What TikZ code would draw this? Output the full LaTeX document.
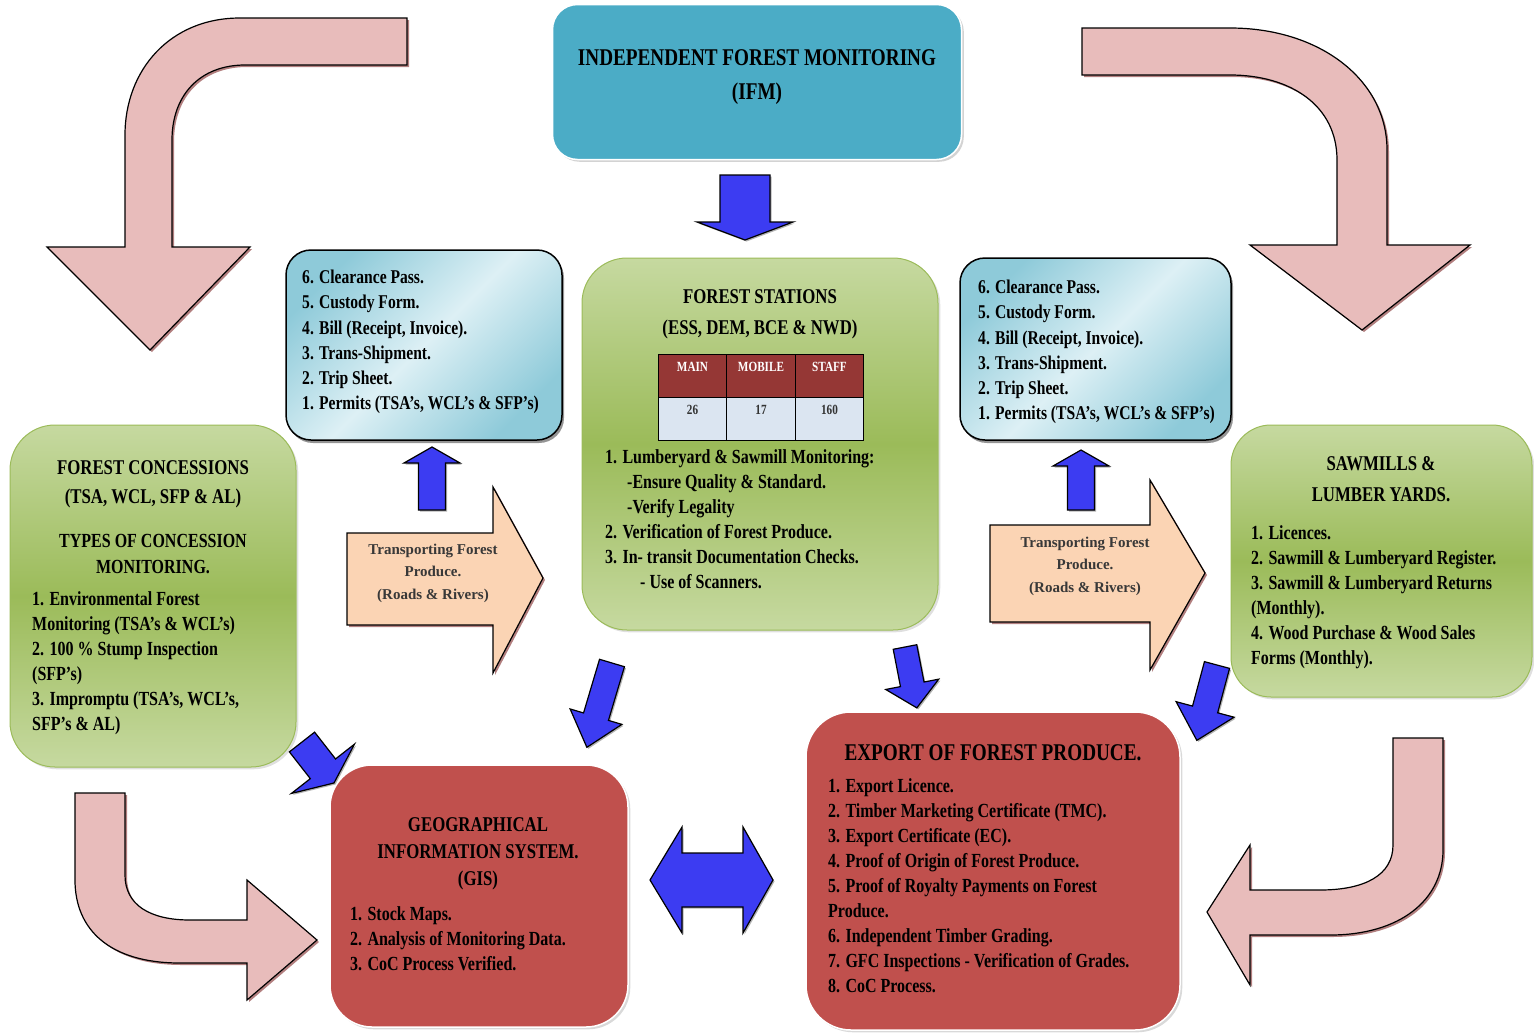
\documentclass[tikz,border=0pt]{standalone}
\usepackage{fontspec}
\setmainfont{Liberation Serif}[FakeStretch=0.8]
\newfontfamily\widefont{Liberation Serif}
\usetikzlibrary{shadows}

\definecolor{ifmteal}{HTML}{4BACC6}
\definecolor{greenlight}{HTML}{C6D9A0}
\definecolor{greendark}{HTML}{9BBB59}
\definecolor{doclight}{HTML}{DDF0F5}
\definecolor{docdark}{HTML}{8ECAD9}
\definecolor{gisred}{HTML}{C0504D}
\definecolor{tabred}{HTML}{953735}
\definecolor{tabblue}{HTML}{DBE5F1}
\definecolor{arrowblue}{HTML}{3C3CF2}
\definecolor{pinkfill}{HTML}{E8BCBB}
\definecolor{peachfill}{HTML}{FBD4B4}

\begin{document}
\begin{tikzpicture}[x=1pt, y=-1pt,
    every node/.style={inner sep=0pt},
    ifmbox/.style={fill=ifmteal, draw=white, line width=1.5pt, rounded corners=25pt,
        drop shadow={opacity=.35}},
    greenbox/.style={draw=greendark, line width=1pt, top color=greenlight,
        bottom color=greenlight, middle color=greendark, rounded corners=45pt,
        drop shadow={opacity=.25}},
    docbox/.style={draw=black, line width=1.5pt, top color=docdark, bottom color=docdark,
        middle color=doclight, shading angle=45, rounded corners=25pt,
        drop shadow={shadow xshift=2pt, shadow yshift=-3pt, fill=black!70, opacity=.6}},
    gisbox/.style={fill=gisred, draw=white, line width=1.5pt, rounded corners=42pt,
        drop shadow={opacity=.3}},
    pinkarrow/.style={fill=pinkfill, draw=black, line width=1.2pt, line join=miter,
        drop shadow={shadow xshift=2pt, shadow yshift=-2pt, fill=red!40!black, opacity=.5}},
    peacharrow/.style={fill=peachfill, draw=black, line width=1.2pt,
        drop shadow={shadow xshift=2pt, shadow yshift=-2pt, fill=red!40!black, opacity=.5}},
    bluearrow/.style={fill=arrowblue, draw=black, line width=1.2pt, line join=miter,
        drop shadow={shadow xshift=1.5pt, shadow yshift=-1.5pt, fill=black!60, opacity=.5}},
    titletext/.style={font=\fontsize{24}{34}\selectfont\bfseries, align=center},
    headtext/.style={font=\fontsize{21}{31}\selectfont\bfseries, align=center},
    listtext/.style={font=\fontsize{20}{25}\selectfont\bfseries, align=left, anchor=north west},
    doctext/.style={font=\fontsize{19.5}{25.2}\selectfont\bfseries, align=left, anchor=north west},
    transtext/.style={font=\widefont\fontsize{15}{22.5}\selectfont\bfseries, text=black!78, align=center},
    tabhead/.style={draw=black, line width=1pt, fill=tabred, text=white, minimum width=68.5pt,
        minimum height=43pt, text height=8pt, text depth=16pt, font=\fontsize{14}{14}\selectfont\bfseries},
    tabcell/.style={tabhead, fill=tabblue, text=black!80},
    pics/blockarrow/.style n args={4}{code={
        \draw[bluearrow] (0,{-#2}) -- ({#1-#4},{-#2}) -- ({#1-#4},{-#3}) -- (#1,0)
            -- ({#1-#4},#3) -- ({#1-#4},#2) -- (0,#2) -- cycle;}}
]
\useasboundingbox (0,0) rectangle (1534,1034);

% curved arrows round the outside
\draw[pinkarrow] (407,18) -- (240,18) .. controls (170,18) and (125,70) .. (125,135)
    -- (125,247) -- (47,247) -- (150,350) -- (250,247) -- (172,247) -- (172,140)
    .. controls (172,95) and (200,65) .. (245,65) -- (407,65) -- cycle;
\draw[pinkarrow] (1082,28) -- (1230,28) .. controls (1320,28) and (1387,80) .. (1387,150)
    -- (1387,245) -- (1470,245) -- (1362,330) -- (1250,245) -- (1337,245) -- (1337,160)
    .. controls (1337,105) and (1290,75) .. (1230,75) -- (1082,75) -- cycle;
\draw[pinkarrow] (75,793) -- (125,793) -- (125,875) .. controls (125,905) and (150,920) .. (190,920)
    -- (247,920) -- (247,880) -- (317,940) -- (247,1000) -- (247,963) -- (180,963)
    .. controls (110,963) and (75,930) .. (75,880) -- cycle;
\draw[pinkarrow] (1443,738) -- (1393,738) -- (1393,845) .. controls (1393,875) and (1365,890) .. (1320,890)
    -- (1250,890) -- (1250,845) -- (1207,912) -- (1250,985) -- (1250,935) -- (1330,935)
    .. controls (1400,935) and (1443,900) .. (1443,850) -- cycle;

% IFM
\node[ifmbox, minimum width=409pt, minimum height=155pt] (ifm) at (757,82) {};
\node[titletext] (ifmtitle) at (757,77) {INDEPENDENT FOREST MONITORING\\(IFM)};

% forest stations
\node[greenbox, minimum width=356pt, minimum height=372pt] (stations) at (760,444) {};
\node[headtext] (stationstitle) at (760,314) {FOREST STATIONS\\(ESS, DEM, BCE \& NWD)};
\foreach \x/\h/\v [count=\i] in {692.5/MAIN/26, 761/MOBILE/17, 829.5/STAFF/160} {
    \node[tabhead] (head\i) at (\x,375.5) {\h};
    \node[tabcell] (cell\i) at (\x,418.5) {\v};
}
\node[listtext] (stationslist) at (605,449) {1. Lumberyard \& Sawmill Monitoring:\\
    \hspace*{22pt}-Ensure Quality \& Standard.\\
    \hspace*{22pt}-Verify Legality\\
    2. Verification of Forest Produce.\\
    3. In- transit Documentation Checks.\\
    \hspace*{35pt}- Use of Scanners.};

% documents
\node[docbox, minimum width=276pt, minimum height=190pt] (docleft) at (424,345) {};
\node[doctext] (docleftlist) at (302,270) {6. Clearance Pass.\\5. Custody Form.\\
    4. Bill (Receipt, Invoice).\\3. Trans-Shipment.\\2. Trip Sheet.\\
    1. Permits (TSA's, WCL's \& SFP's)};
\node[docbox, minimum width=271pt, minimum height=182pt] (docright) at (1095.5,349) {};
\node[doctext] (docrightlist) at (978,280) {6. Clearance Pass.\\5. Custody Form.\\
    4. Bill (Receipt, Invoice).\\3. Trans-Shipment.\\2. Trip Sheet.\\
    1. Permits (TSA's, WCL's \& SFP's)};

% concessions
\node[greenbox, minimum width=286pt, minimum height=342pt] (concessions) at (153,596) {};
\node[headtext, font=\fontsize{21}{29}\selectfont\bfseries] (concessionstitle) at (153,484)
    {FOREST CONCESSIONS\\(TSA, WCL, SFP \& AL)};
\node[headtext, font=\fontsize{20}{26}\selectfont\bfseries] (concessionstypes) at (153,554)
    {TYPES OF CONCESSION\\MONITORING.};
\node[listtext] (concessionslist) at (32,591) {1. Environmental Forest\\
    Monitoring (TSA's \& WCL's)\\2. 100 \% Stump Inspection\\(SFP's)\\
    3. Impromptu (TSA's, WCL's,\\SFP's \& AL)};

% sawmills
\node[greenbox, minimum width=301pt, minimum height=272pt, rounded corners=40pt] (sawmills) at (1381.5,561) {};
\node[headtext] (sawmillstitle) at (1381,479) {SAWMILLS \&\\LUMBER YARDS.};
\node[listtext] (sawmillslist) at (1251,525) {1. Licences.\\2. Sawmill \& Lumberyard Register.\\
    3. Sawmill \& Lumberyard Returns\\(Monthly).\\4. Wood Purchase \& Wood Sales\\
    Forms (Monthly).};

% GIS
\node[gisbox, minimum width=298pt, minimum height=262pt] (gis) at (479,896) {};
\node[headtext, font=\fontsize{21}{27}\selectfont\bfseries] (gistitle) at (478,854)
    {GEOGRAPHICAL\\INFORMATION SYSTEM.\\(GIS)};
\node[listtext] (gislist) at (350,906) {1. Stock Maps.\\2. Analysis of Monitoring Data.\\
    3. CoC Process Verified.};

% export
\node[gisbox, minimum width=374pt, minimum height=318pt, rounded corners=45pt] (export) at (993,871) {};
\node[titletext] (exporttitle) at (993,753) {EXPORT OF FOREST PRODUCE.};
\node[listtext] (exportlist) at (828,778) {1. Export Licence.\\
    2. Timber Marketing Certificate (TMC).\\3. Export Certificate (EC).\\
    4. Proof of Origin of Forest Produce.\\5. Proof of Royalty Payments on Forest\\
    Produce.\\6. Independent Timber Grading.\\7. GFC Inspections - Verification of Grades.\\
    8. CoC Process.};

% transport arrows
\draw[peacharrow] (347,533) -- (493,533) -- (493,487) -- (543,578) -- (493,673) -- (493,625) -- (347,625) -- cycle;
\node[transtext] (transleft) at (433,573) {Transporting Forest\\Produce.\\(Roads \& Rivers)};
\draw[peacharrow] (990,525) -- (1150,525) -- (1150,480) -- (1205,573) -- (1150,670) -- (1150,622) -- (990,622) -- cycle;
\node[transtext] (transright) at (1085,566) {Transporting Forest\\Produce.\\(Roads \& Rivers)};

% blue arrows
\pic[rotate=-90] (ifmdown) at (745,175) {blockarrow={65}{25}{48}{18}};
\pic[rotate=90] (leftup) at (432,510) {blockarrow={63}{13.5}{28}{16}};
\pic[rotate=90] (rightup) at (1081,510) {blockarrow={60}{13.5}{28}{16}};
\pic[rotate=-106.6] (togis) at (612,663) {blockarrow={88}{13}{27}{32}};
\pic[rotate=-79] (toexport) at (905,647) {blockarrow={62}{12}{27}{24}};
\pic[rotate=-105] (sawtoexport) at (1217,665) {blockarrow={78}{13}{30}{32}};
\pic[rotate=-52] (contogis) at (302,742) {blockarrow={52}{16}{40}{18}};
\draw[bluearrow] (650,880) -- (682,827) -- (682,853) -- (743,853) -- (743,827) -- (773,880)
    -- (743,933) -- (743,907) -- (682,907) -- (682,933) -- cycle;
\end{tikzpicture}
\end{document}
